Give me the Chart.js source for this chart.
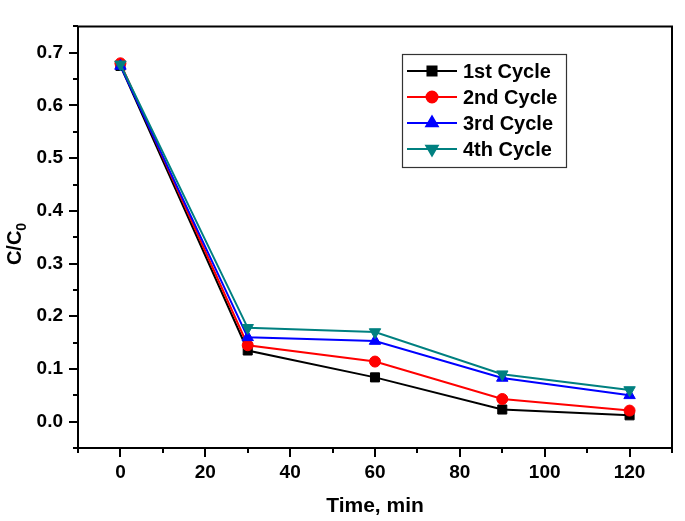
<!DOCTYPE html>
<html><head><meta charset="utf-8">
<script src="https://cdn.jsdelivr.net/npm/chart.js@4/dist/chart.umd.min.js"></script>
<style>html,body{margin:0;padding:0;background:#fff}</style>
</head><body>
<canvas id="c" width="685" height="521"></canvas>
<script>
const times = [0, 30, 60, 90, 120];
const cycle1 = [0.675, 0.135, 0.084, 0.023, 0.012];
const cycle2 = [0.680, 0.145, 0.114, 0.043, 0.021];
const cycle3 = [0.675, 0.160, 0.153, 0.083, 0.050];
const cycle4 = [0.678, 0.178, 0.170, 0.090, 0.060];
const seriesNames = ['1st Cycle', '2nd Cycle', '3rd Cycle', '4th Cycle'];
const xTickLabels = [0, 20, 40, 60, 80, 100, 120];
const yTickLabels = [0.0, 0.1, 0.2, 0.3, 0.4, 0.5, 0.6, 0.7];
const xTitle = 'Time, min';
const yTitleMain = 'C/C';
const yTitleSub = '0';

const FONT = '"Liberation Sans", Arial, sans-serif';
const styles = [
  {color: '#000000', pointStyle: 'rect', radius: 6.4, rotation: 0},
  {color: '#ff0000', pointStyle: 'circle', radius: 5.5, rotation: 0},
  {color: '#0000ff', pointStyle: 'triangle', radius: 6.6, rotation: 0},
  {color: '#008080', pointStyle: 'triangle', radius: 6.6, rotation: 180}
];
const allSeries = [cycle1, cycle2, cycle3, cycle4];

const datasets = allSeries.map((vals, i) => ({
  label: seriesNames[i],
  data: times.map((t, j) => ({x: t, y: vals[j]})),
  borderColor: styles[i].color,
  backgroundColor: styles[i].color,
  pointBackgroundColor: styles[i].color,
  pointBorderColor: styles[i].color,
  pointStyle: styles[i].pointStyle,
  pointRadius: styles[i].radius,
  pointRotation: styles[i].rotation,
  pointBorderWidth: 1,
  borderWidth: 2,
  tension: 0,
  order: 4 - i
}));

function near(v, arr) { return arr.some(a => Math.abs(a - v) < 1e-6); }

const framePlugin = {
  id: 'frame',
  afterDraw(chart) {
    const ctx = chart.ctx;
    const a = chart.chartArea;
    const xs = chart.scales.x, ys = chart.scales.y;
    ctx.save();
    ctx.strokeStyle = '#000';
    ctx.lineWidth = 2;
    ctx.beginPath();
    ctx.rect(a.left, a.top, a.right - a.left, a.bottom - a.top);
    ctx.stroke();
    for (let v = -10; v <= 130; v += 10) {
      const px = Math.round(xs.getPixelForValue(v));
      const len = near(v, xTickLabels) ? 9 : 5;
      ctx.beginPath();
      ctx.moveTo(px, a.bottom);
      ctx.lineTo(px, a.bottom + len);
      ctx.stroke();
    }
    for (let k = -1; k <= 15; k++) {
      const v = k * 0.05;
      const py = Math.round(ys.getPixelForValue(v));
      const len = near(v, yTickLabels) ? 9 : 5;
      ctx.beginPath();
      ctx.moveTo(a.left, py);
      ctx.lineTo(a.left - len, py);
      ctx.stroke();
    }
    // y title with subscript
    ctx.translate(21, 244);
    ctx.rotate(-Math.PI / 2);
    ctx.fillStyle = '#000';
    ctx.font = 'bold 20px ' + FONT;
    ctx.textBaseline = 'alphabetic';
    ctx.textAlign = 'left';
    const w1 = ctx.measureText(yTitleMain).width;
    ctx.font = 'bold 14px ' + FONT;
    const w2 = ctx.measureText(yTitleSub).width;
    const start = -(w1 + w2) / 2;
    ctx.font = 'bold 20px ' + FONT;
    ctx.fillText(yTitleMain, start, 0);
    ctx.font = 'bold 14px ' + FONT;
    ctx.fillText(yTitleSub, start + w1, 5);
    ctx.restore();

    // legend
    ctx.save();
    ctx.strokeStyle = '#333';
    ctx.lineWidth = 1.2;
    ctx.strokeRect(402.5, 54.5, 164, 113);
    const rows = [71, 97, 123, 149];
    chart.data.datasets.forEach((ds, i) => {
      const y = rows[i];
      ctx.strokeStyle = ds.borderColor;
      ctx.lineWidth = 2;
      ctx.beginPath();
      ctx.moveTo(407, y);
      ctx.lineTo(457, y);
      ctx.stroke();
      ctx.fillStyle = ds.borderColor;
      Chart.helpers.drawPoint(ctx, {pointStyle: ds.pointStyle, radius: ds.pointRadius, rotation: ds.pointRotation, borderWidth: 1}, 432, y);
      ctx.fill();
      ctx.fillStyle = '#000';
      ctx.font = 'bold 20px ' + FONT;
      ctx.textBaseline = 'middle';
      ctx.textAlign = 'left';
      ctx.fillText(ds.label, 463, y + 1);
    });
    ctx.restore();
  }
};

new Chart(document.getElementById('c'), {
  type: 'line',
  data: {datasets},
  options: {
    responsive: false,
    animation: false,
    devicePixelRatio: 1,
    layout: {padding: {top: 2, right: 3, left: 0, bottom: 0}},
    plugins: {legend: {display: false}, tooltip: {enabled: false}},
    scales: {
      x: {
        type: 'linear', min: -10, max: 130,
        grid: {display: false, drawTicks: false},
        border: {display: false},
        ticks: {
          stepSize: 10, autoSkip: false, maxRotation: 0,
          padding: 13, color: '#000',
          font: {family: FONT, size: 19, weight: 'bold'},
          callback: v => near(v, xTickLabels) ? String(v) : ''
        },
        title: {display: true, text: xTitle, color: '#000',
          font: {family: FONT, size: 21, weight: 'bold'}, padding: {top: 0, bottom: 2}},
        afterFit: s => { s.height = 73; }
      },
      y: {
        type: 'linear', min: -0.05, max: 0.75,
        grid: {display: false, drawTicks: false},
        border: {display: false},
        ticks: {
          stepSize: 0.05, autoSkip: false,
          padding: 15, color: '#000',
          font: {family: FONT, size: 19, weight: 'bold'},
          callback: v => near(v, yTickLabels) ? v.toFixed(1) : ''
        },
        afterFit: s => { s.width = 78; }
      }
    }
  },
  plugins: [framePlugin]
});
</script>
</body></html>
